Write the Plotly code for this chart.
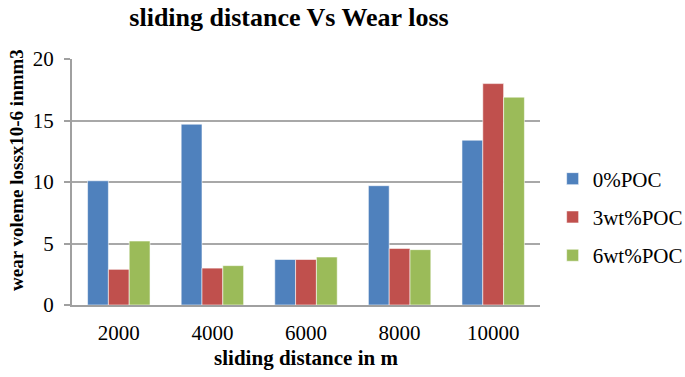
import plotly.graph_objects as go

categories = ["2000", "4000", "6000", "8000", "10000"]
poc0 = [10.1, 14.7, 3.7, 9.7, 13.4]
poc3 = [2.9, 3.0, 3.7, 4.6, 18.0]
poc6 = [5.2, 3.2, 3.9, 4.5, 16.9]
series_names = ["0%POC", "3wt%POC", "6wt%POC"]
colors = ["#4F81BD", "#C0504D", "#9BBB59"]

FONT = "'Liberation Serif', 'Times New Roman', serif"
W, H = 685, 377
L, R, T, B = 72, 145, 59, 72

fig = go.Figure()
for i, (name, vals) in enumerate(zip(series_names, [poc0, poc3, poc6])):
    fig.add_trace(go.Bar(
        x=categories, y=vals, name=name, legendgroup=name,
        marker=dict(color=colors[i], line=dict(color="rgba(255,255,255,0.7)", width=0.8)),
    ))

fig.update_layout(
    width=W, height=H,
    margin=dict(l=L, r=R, t=T, b=B, autoexpand=False),
    paper_bgcolor="white", plot_bgcolor="white",
    barmode="group", bargap=0.333, bargroupgap=0,
    font=dict(family=FONT, size=20, color="black"),
    title=dict(text="<b>sliding distance Vs Wear loss</b>", x=289/W, xanchor="center",
               xref="container", y=1-17/H, yanchor="middle", yref="container",
               font=dict(family=FONT, size=26, color="black")),
    legend=dict(x=1.027, xanchor="left", y=(H-B-217)/(H-T-B), yanchor="middle",
                font=dict(family=FONT, size=21, color="black"),
                tracegroupgap=8, traceorder="grouped", itemwidth=30),
    showlegend=True,
    annotations=[dict(
        text="<b>wear voleme lossx10-6 inmm3</b>", textangle=-90,
        xref="paper", yref="paper",
        x=-(L-16.5)/(W-L-R), y=(H-B-170.5)/(H-T-B),
        xanchor="center", yanchor="middle", showarrow=False,
        font=dict(family=FONT, size=19, color="black"),
    )],
)
fig.update_xaxes(
    type="category", showline=True, linecolor="#A0A0A0", linewidth=2,
    ticks="", showgrid=False, tickfont=dict(family=FONT, size=21),
    ticklabelstandoff=8,
    title=dict(text="<b>sliding distance in m</b>", font=dict(family=FONT, size=21), standoff=6),
)
fig.update_yaxes(
    range=[0, 20], dtick=5, showline=True, linecolor="#A0A0A0", linewidth=2,
    ticks="outside", ticklen=6, tickcolor="#A0A0A0", tickwidth=2,
    showgrid=True, gridcolor="#A8A8A8", gridwidth=1.5, zeroline=False,
    tickfont=dict(family=FONT, size=21), ticklabelstandoff=6,
)

fig.write_html("out.html")
